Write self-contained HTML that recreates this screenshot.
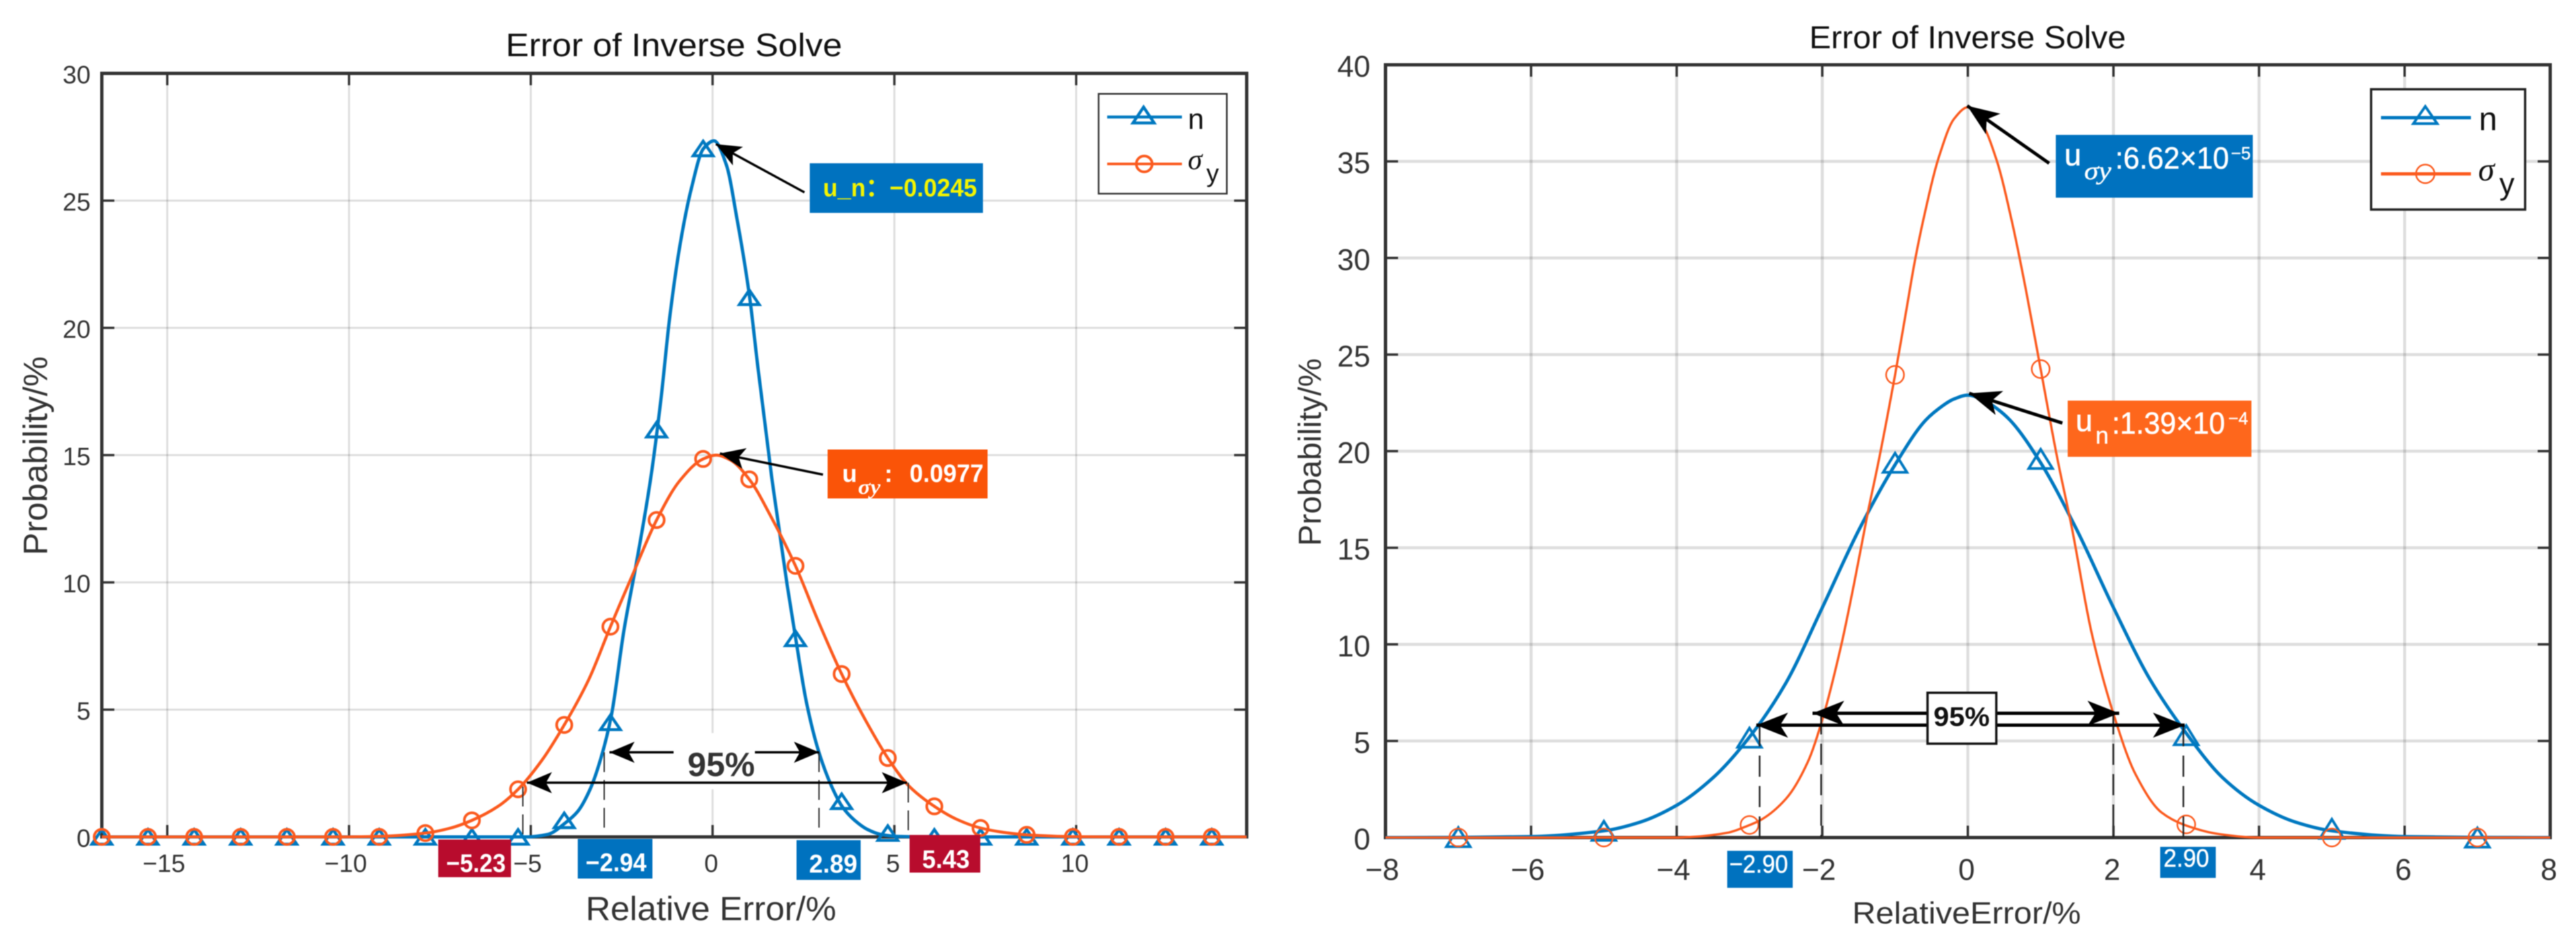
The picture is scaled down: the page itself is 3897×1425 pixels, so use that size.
<!DOCTYPE html>
<html lang="en">
<head>
<meta charset="utf-8">
<title>Error of Inverse Solve</title>
<style>
html,body{margin:0;padding:0;background:#fff;}
svg{display:block;filter:blur(0.7px);}
text{font-family:"Liberation Sans","Noto Sans CJK SC",sans-serif;}
.serif{font-family:"Liberation Serif",serif;}
</style>
</head>
<body>
<svg id="figure" xmlns="http://www.w3.org/2000/svg" width="3897" height="1425" viewBox="0 0 3897 1425">
<defs>
<marker id="headS" markerUnits="userSpaceOnUse" markerWidth="40" markerHeight="34" refX="38" refY="16" orient="auto-start-reverse" overflow="visible"><path d="M38,16 L0,0 L9,16 L0,32 Z" fill="#000"/></marker>
<marker id="headL" markerUnits="userSpaceOnUse" markerWidth="50" markerHeight="40" refX="48" refY="19" orient="auto-start-reverse" overflow="visible"><path d="M48,19 L0,0 L12,19 L0,38 Z" fill="#000"/></marker>
</defs>
<rect x="0" y="0" width="3897" height="1425" fill="#fff"/>

<!-- LEFT PANEL -->
<g id="left-panel">
<g id="left-axes"></g>
<g id="left-series"></g>
<text x="765" y="85" font-size="49" fill="#111" textLength="509" lengthAdjust="spacingAndGlyphs">Error of Inverse Solve</text>
<text x="886" y="1392" font-size="51" fill="#333" textLength="379" lengthAdjust="spacingAndGlyphs">Relative Error/%</text>
<text transform="translate(71,840) rotate(-90)" font-size="51" fill="#333" textLength="301" lengthAdjust="spacingAndGlyphs">Probability/%</text>

<g>
<rect x="1662" y="142" width="194" height="151" fill="#fff" stroke="#333" stroke-width="2.5"/>
<line x1="1675" y1="177" x2="1788" y2="177" stroke="#0078c0" stroke-width="4.5"/>
<path d="M1730,162 L1746,186 L1714,186 Z" fill="none" stroke="#0078c0" stroke-width="4.5"/>
<text x="1797" y="195" font-size="44" fill="#111">n</text>
<line x1="1675" y1="248" x2="1788" y2="248" stroke="#fb5a1e" stroke-width="4"/>
<circle cx="1731" cy="248" r="12" fill="none" stroke="#fb5a1e" stroke-width="4"/>
<text class="serif" x="1797" y="256" font-size="44" font-style="italic" fill="#111">σ</text>
<text x="1825" y="275" font-size="38" fill="#111">y</text>
</g>

<line x1="1217" y1="291" x2="1083" y2="218" stroke="#000" stroke-width="3.5" marker-end="url(#headS)"/>
<rect x="1225" y="247" width="262" height="75" fill="#0072bf"/>
<text x="1245" y="297" font-size="38" font-weight="bold" fill="#f4f400" textLength="233" lengthAdjust="spacingAndGlyphs">u_n：−0.0245</text>

<line x1="1245" y1="718" x2="1089" y2="686" stroke="#000" stroke-width="3.5" marker-end="url(#headS)"/>
<rect x="1252" y="680" width="242" height="74" fill="#fa5408"/>
<text x="1274" y="729" font-size="37" font-weight="bold" fill="#fff">u</text>
<text class="serif" x="1298" y="747" font-size="32" font-weight="bold" font-style="italic" fill="#fff" textLength="34" lengthAdjust="spacingAndGlyphs">σy</text>
<text x="1338" y="729" font-size="37" font-weight="bold" fill="#fff">:</text>
<text x="1376" y="729" font-size="38" font-weight="bold" fill="#fff" textLength="112" lengthAdjust="spacingAndGlyphs">0.0977</text>

<line x1="791" y1="1190" x2="791" y2="1266" stroke="#333" stroke-width="2" stroke-dasharray="30 12"/>
<line x1="914" y1="1138" x2="914" y2="1266" stroke="#333" stroke-width="2" stroke-dasharray="30 12"/>
<line x1="1239" y1="1138" x2="1239" y2="1266" stroke="#333" stroke-width="2" stroke-dasharray="30 12"/>
<line x1="1374" y1="1184" x2="1374" y2="1266" stroke="#333" stroke-width="2" stroke-dasharray="30 12"/>

<line x1="922" y1="1138" x2="1239" y2="1138" stroke="#000" stroke-width="3.5" marker-start="url(#headS)" marker-end="url(#headS)"/>
<rect x="1019" y="1109" width="123" height="85" fill="#fff"/>
<line x1="797" y1="1184" x2="1372" y2="1184" stroke="#000" stroke-width="3.5" marker-start="url(#headS)" marker-end="url(#headS)"/>
<text x="1040" y="1174" font-size="51" font-weight="bold" fill="#333" textLength="102" lengthAdjust="spacingAndGlyphs">95%</text>

<rect x="663" y="1270" width="110" height="57" fill="#b80c2d"/>
<text x="675" y="1319" font-size="39" font-weight="bold" fill="#fff" textLength="90" lengthAdjust="spacingAndGlyphs">−5.23</text>
<rect x="874" y="1269" width="113" height="60" fill="#0072bf"/>
<text x="886" y="1318" font-size="39" font-weight="bold" fill="#fff" textLength="92" lengthAdjust="spacingAndGlyphs">−2.94</text>
<rect x="1205" y="1271" width="97" height="60" fill="#0072bf"/>
<text x="1224" y="1320" font-size="39" font-weight="bold" fill="#fff" textLength="73" lengthAdjust="spacingAndGlyphs">2.89</text>
<rect x="1376" y="1263" width="107" height="57" fill="#b80c2d"/>
<text x="1395" y="1313" font-size="39" font-weight="bold" fill="#fff" textLength="72" lengthAdjust="spacingAndGlyphs">5.43</text>
</g>

<!-- RIGHT PANEL -->
<g id="right-panel">
<g id="right-axes"></g>
<g id="right-series"></g>
<text x="2737" y="73" font-size="48" fill="#111" textLength="479" lengthAdjust="spacingAndGlyphs">Error of Inverse Solve</text>
<text x="2802" y="1397" font-size="46" fill="#333" textLength="346" lengthAdjust="spacingAndGlyphs">RelativeError/%</text>
<text transform="translate(1998,826) rotate(-90)" font-size="48" fill="#333" textLength="284" lengthAdjust="spacingAndGlyphs">Probability/%</text>

<g>
<rect x="3587" y="135" width="233" height="182" fill="#fff" stroke="#222" stroke-width="3.5"/>
<line x1="3602" y1="178" x2="3738" y2="178" stroke="#0078c0" stroke-width="5"/>
<path d="M3669,161 L3687,187 L3651,187 Z" fill="none" stroke="#0078c0" stroke-width="4"/>
<text x="3750" y="197" font-size="50" fill="#111">n</text>
<line x1="3602" y1="263" x2="3738" y2="263" stroke="#fb5a1e" stroke-width="5"/>
<circle cx="3669" cy="263" r="14" fill="none" stroke="#fb5a1e" stroke-width="2.5"/>
<text class="serif" x="3749" y="273" font-size="50" font-style="italic" fill="#111">σ</text>
<text x="3781" y="294" font-size="46" fill="#111">y</text>
</g>

<line x1="3100" y1="247" x2="2976" y2="160" stroke="#000" stroke-width="5" marker-end="url(#headL)"/>
<rect x="3110" y="204" width="298" height="95" fill="#0072bf"/>
<text x="3123" y="250" font-size="46" fill="#fff" stroke="#fff" stroke-width="0.6">u</text>
<text class="serif" x="3153" y="271" font-size="38" font-style="italic" fill="#fff" stroke="#fff" stroke-width="0.4" textLength="41" lengthAdjust="spacingAndGlyphs">σy</text>
<text x="3200" y="255" font-size="46" fill="#fff" stroke="#fff" stroke-width="0.6" textLength="172" lengthAdjust="spacingAndGlyphs">:6.62×10</text>
<text x="3375" y="241" font-size="27" fill="#fff" stroke="#fff" stroke-width="0.4" textLength="30" lengthAdjust="spacingAndGlyphs">−5</text>

<line x1="3120" y1="640" x2="2979" y2="595" stroke="#000" stroke-width="5" marker-end="url(#headL)"/>
<rect x="3128" y="606" width="278" height="85" fill="#fe671c"/>
<text x="3140" y="652" font-size="46" fill="#fff" stroke="#fff" stroke-width="0.6">u</text>
<text x="3170" y="671" font-size="36" fill="#fff" stroke="#fff" stroke-width="0.4">n</text>
<text x="3195" y="656" font-size="46" fill="#fff" stroke="#fff" stroke-width="0.6" textLength="171" lengthAdjust="spacingAndGlyphs">:1.39×10</text>
<text x="3371" y="642" font-size="27" fill="#fff" stroke="#fff" stroke-width="0.4" textLength="30" lengthAdjust="spacingAndGlyphs">−4</text>

<line x1="2662" y1="1097" x2="2662" y2="1267" stroke="#222" stroke-width="2.5" stroke-dasharray="32 14"/>
<line x1="2755" y1="1079" x2="2755" y2="1267" stroke="#222" stroke-width="2.5" stroke-dasharray="32 14"/>
<line x1="3197" y1="1079" x2="3197" y2="1267" stroke="#222" stroke-width="2.5" stroke-dasharray="32 14"/>
<line x1="3303" y1="1097" x2="3303" y2="1267" stroke="#222" stroke-width="2.5" stroke-dasharray="32 14"/>

<line x1="2742" y1="1079" x2="3206" y2="1079" stroke="#000" stroke-width="5" marker-start="url(#headL)" marker-end="url(#headL)"/>
<line x1="2657" y1="1097" x2="3305" y2="1097" stroke="#000" stroke-width="5" marker-start="url(#headL)" marker-end="url(#headL)"/>
<rect x="2916" y="1048" width="104" height="77" fill="#fff" stroke="#111" stroke-width="3.5"/>
<text x="2925" y="1098" font-size="41" font-weight="bold" fill="#111" textLength="85" lengthAdjust="spacingAndGlyphs">95%</text>

<rect x="2613" y="1287" width="99" height="56" fill="#0072bf"/>
<text x="2616" y="1320" font-size="38" fill="#fff" stroke="#fff" stroke-width="0.5" textLength="89" lengthAdjust="spacingAndGlyphs">−2.90</text>
<rect x="3268" y="1281" width="84" height="47" fill="#0072bf"/>
<text x="3273" y="1311" font-size="38" fill="#fff" stroke="#fff" stroke-width="0.5" textLength="69" lengthAdjust="spacingAndGlyphs">2.90</text>
</g>
</svg>

<script>
// ---- left chart data ----
const leftXTicks = [-15, -10, -5, 0, 5, 10];
const leftYTicks = [0, 5, 10, 15, 20, 25, 30];
const leftNX = [-16.8, -10, -5.6, -5.11, -4.53, -4.05, -3.71, -3.36, -3.07, -2.78, -2.44, -2.09, -1.69, -1.42, -1.18, -0.89, -0.58, -0.25, 0.04, 0.38, 0.67, 1.02, 1.25, 1.62, 1.84, 2.05, 2.29, 2.58, 2.93, 3.27, 3.56, 3.91, 4.25, 4.62, 5.07, 6, 14.69];
const leftNY = [0, 0, 0, 0, 0.1, 0.55, 1.0, 1.9, 3.1, 4.8, 8.1, 10.8, 14.2, 17.2, 20.4, 23.3, 25.5, 27.05, 27.35, 26.4, 24.3, 21.2, 18.4, 14.2, 12.0, 9.9, 7.75, 5.3, 3.3, 2.0, 1.2, 0.65, 0.3, 0.1, 0.02, 0, 0];
const leftSigmaX = [-16.8, -10.4, -9.2, -7.9, -7.2, -6.62, -5.9, -5.35, -4.7, -4.08, -3.4, -2.81, -2.2, -1.54, -0.9, -0.26, 0.1, 0.5, 1.01, 1.6, 2.28, 2.9, 3.55, 4.2, 4.82, 5.4, 6.1, 6.7, 7.37, 8.0, 8.64, 9.9, 11, 14.69];
const leftSigmaY = [0, 0, 0.02, 0.15, 0.35, 0.65, 1.2, 1.87, 3.0, 4.4, 6.2, 8.26, 10.3, 12.45, 14.0, 14.85, 15.0, 14.8, 14.05, 12.6, 10.65, 8.5, 6.4, 4.6, 3.1, 2.0, 1.2, 0.7, 0.35, 0.18, 0.08, 0.01, 0, 0];
const leftMarkerX = [-16.8, -15.53, -14.26, -12.98, -11.71, -10.44, -9.17, -7.9, -6.62, -5.35, -4.08, -2.81, -1.54, -0.26, 1.01, 2.28, 3.55, 4.82, 6.1, 7.37, 8.64, 9.91, 11.18, 12.46, 13.73];
const leftNMarkerY = [0, 0, 0, 0, 0, 0, 0, 0, 0, 0, 0.65, 4.5, 16.0, 27.05, 21.2, 7.8, 1.4, 0.15, 0, 0, 0, 0, 0, 0, 0];
const leftSigmaMarkerY = [0, 0, 0, 0, 0, 0, 0, 0.15, 0.65, 1.87, 4.4, 8.26, 12.45, 14.85, 14.05, 10.65, 6.4, 3.1, 1.2, 0.35, 0.08, 0, 0, 0, 0];

// ---- right chart data ----
const rightXTicks = [-8, -6, -4, -2, 0, 2, 4, 6, 8];
const rightYTicks = [0, 5, 10, 15, 20, 25, 30, 35, 40];
const rightNX = [-8, -7, -6, -5, -4.5, -4, -3.5, -3, -2.5, -2, -1.5, -1, -0.58, -0.4, -0.19, 0, 0.19, 0.4, 0.58, 1, 1.5, 2, 2.5, 3, 3.5, 4, 4.5, 5, 6, 7, 8];
const rightNY = [0, 0.01, 0.05, 0.35, 0.8, 1.67, 3.1, 5.2, 8.0, 11.9, 15.9, 19.3, 21.6, 22.2, 22.7, 22.9, 22.7, 22.2, 21.6, 19.4, 15.9, 11.9, 8.2, 5.4, 3.1, 1.67, 0.8, 0.35, 0.05, 0.01, 0];
const rightSigmaX = [-8, -4, -3.8, -3.3, -3.03, -2.85, -2.5, -2.2, -2, -1.74, -1.56, -1.37, -1.23, -1, -0.85, -0.73, -0.61, -0.4, -0.19, 0, 0.19, 0.4, 0.61, 0.8, 1, 1.23, 1.42, 1.7, 2, 2.3, 2.66, 3, 3.45, 4, 8];
const rightSigmaY = [0, 0, 0.03, 0.25, 0.6, 0.9, 2.0, 3.9, 6.1, 9.95, 13.2, 16.9, 19.4, 23.95, 27.2, 29.8, 32, 35.2, 37.2, 37.8, 37.0, 35.0, 31.8, 28.3, 24.25, 19.6, 16.2, 10.6, 6.4, 3.3, 1.3, 0.62, 0.18, 0, 0];
const rightMarkerX = [-7, -5, -3, -1, 1, 3, 5, 7];
const rightNMarkerY = [0.02, 0.35, 5.17, 19.4, 19.6, 5.3, 0.45, 0];
const rightSigmaMarkerY = [0, 0, 0.65, 23.95, 24.25, 0.68, 0, 0];

const SVG_NS = 'http://www.w3.org/2000/svg';
function add(tag, attrs, parent) {
  const el = document.createElementNS(SVG_NS, tag);
  for (const k in attrs) el.setAttribute(k, attrs[k]);
  parent.appendChild(el);
  return el;
}
// Smooth path through the data points (monotone cubic Hermite), so nothing overshoots below the axis.
function linePath(xs, ys, sx, sy) {
  const n = xs.length;
  const px = xs.map(sx), py = ys.map(sy);
  const slope = [];
  for (let i = 0; i < n - 1; i++) slope.push((py[i + 1] - py[i]) / (px[i + 1] - px[i]));
  const m = [slope[0]];
  for (let i = 1; i < n - 1; i++) {
    if (slope[i - 1] * slope[i] <= 0) { m.push(0); continue; }
    const h0 = px[i] - px[i - 1], h1 = px[i + 1] - px[i];
    const w0 = 2 * h1 + h0, w1 = h1 + 2 * h0;
    m.push((w0 + w1) / (w0 / slope[i - 1] + w1 / slope[i]));
  }
  m.push(slope[n - 2]);
  let d = 'M' + px[0].toFixed(1) + ',' + py[0].toFixed(1);
  for (let i = 0; i < n - 1; i++) {
    const h = (px[i + 1] - px[i]) / 3;
    d += ' C' + (px[i] + h).toFixed(1) + ',' + (py[i] + m[i] * h).toFixed(1) + ' ' +
      (px[i + 1] - h).toFixed(1) + ',' + (py[i + 1] - m[i + 1] * h).toFixed(1) + ' ' +
      px[i + 1].toFixed(1) + ',' + py[i + 1].toFixed(1);
  }
  return d;
}
function tickText(v) {
  return v < 0 ? '\u2212' + Math.abs(v) : String(v);
}

function drawAxes(g, o) {
  o.xTicks.forEach(function (v) {
    const grid = add('line', {x1: o.sx(v), x2: o.sx(v), y1: o.top, y2: o.bottom, stroke: '#000', 'stroke-opacity': 0.13, 'stroke-width': o.gridW}, g);
    
    
  });
  o.yTicks.forEach(function (v) {
    const grid = add('line', {x1: o.left, x2: o.right, y1: o.sy(v), y2: o.sy(v), stroke: '#000', 'stroke-opacity': 0.13, 'stroke-width': o.gridW}, g);
    
    
  });
  const box = add('rect', {x: o.left, y: o.top, width: o.right - o.left, height: o.bottom - o.top, fill: 'none', stroke: '#333', 'stroke-width': o.axisW}, g);
  
  
  o.xTicks.forEach(function (v) {
    const x = o.sx(v);
    const d = 'M' + x + ',' + o.bottom + ' V' + (o.bottom - 18) + ' M' + x + ',' + o.top + ' V' + (o.top + 18);
    const tick = add('path', {d: d, stroke: '#333', 'stroke-width': 3.5, fill: 'none'}, g);
    
    
    const label = add('text', {x: x + (v < 0 ? -5 : -2), y: o.xLabelY, 'font-size': o.fontSize, fill: '#333', 'text-anchor': 'middle'}, g);
    label.textContent = tickText(v);
    
    
  });
  o.yTicks.forEach(function (v) {
    const y = o.sy(v);
    const d = 'M' + o.left + ',' + y + ' H' + (o.left + 19) + ' M' + o.right + ',' + y + ' H' + (o.right - 19);
    const tick = add('path', {d: d, stroke: '#333', 'stroke-width': 3.5, fill: 'none'}, g);
    
    
    const label = add('text', {x: o.yLabelX, y: y + o.yLabelDy, 'font-size': o.fontSize, fill: '#333', 'text-anchor': 'end'}, g);
    label.textContent = tickText(v);
    
    
  });
}

function drawSeries(g, o) {
  const nLine = add('path', {d: linePath(o.nX, o.nY, o.sx, o.sy), fill: 'none', stroke: '#0078c0', 'stroke-width': o.nW, 'stroke-linejoin': 'round'}, g);
  
  
  o.markerX.forEach(function (x, i) {
    const cx = o.sx(x), cy = o.sy(o.nMarkerY[i]);
    const d = 'M' + cx + ',' + (cy - o.triH / 2) + ' L' + (cx + o.triW / 2) + ',' + (cy + o.triH / 2) + ' L' + (cx - o.triW / 2) + ',' + (cy + o.triH / 2) + ' Z';
    const tri = add('path', {d: d, fill: 'none', stroke: '#0078c0', 'stroke-width': o.triS}, g);
    
    
  });
  const sLine = add('path', {d: linePath(o.sigmaX, o.sigmaY, o.sx, o.sy), fill: 'none', stroke: '#fb5a1e', 'stroke-width': o.sW, 'stroke-linejoin': 'round'}, g);
  
  
  o.markerX.forEach(function (x, i) {
    const c = add('circle', {cx: o.sx(x), cy: o.sy(o.sigmaMarkerY[i]), r: o.circR, fill: 'none', stroke: '#fb5a1e', 'stroke-width': o.circS}, g);
    
    
  });
}

function leftSx(v) { return 1078 + v * 55; }
function leftSy(v) { return 1266 - v * 38.5; }
function rightSx(v) { return 2977 + v * 110.125; }
function rightSy(v) { return 1267 - v * 29.225; }

drawAxes(document.getElementById('left-axes'), {
  xTicks: leftXTicks, yTicks: leftYTicks, sx: leftSx, sy: leftSy,
  left: 154, right: 1886, top: 111, bottom: 1266,
  gridW: 3, axisW: 5, fontSize: 38, xLabelY: 1319, yLabelX: 137, yLabelDy: 15
});
drawSeries(document.getElementById('left-series'), {
  nX: leftNX, nY: leftNY, sigmaX: leftSigmaX, sigmaY: leftSigmaY,
  markerX: leftMarkerX, nMarkerY: leftNMarkerY, sigmaMarkerY: leftSigmaMarkerY,
  sx: leftSx, sy: leftSy, nW: 5, sW: 4.5, triW: 30, triH: 22, triS: 4.5, circR: 11.5, circS: 4
});
drawAxes(document.getElementById('right-axes'), {
  xTicks: rightXTicks, yTicks: rightYTicks, sx: rightSx, sy: rightSy,
  left: 2096, right: 3858, top: 98, bottom: 1267,
  gridW: 4.5, axisW: 5, fontSize: 45, xLabelY: 1331, yLabelX: 2073, yLabelDy: 18
});
drawSeries(document.getElementById('right-series'), {
  nX: rightNX, nY: rightNY, sigmaX: rightSigmaX, sigmaY: rightSigmaY,
  markerX: rightMarkerX, nMarkerY: rightNMarkerY, sigmaMarkerY: rightSigmaMarkerY,
  sx: rightSx, sy: rightSy, nW: 5, sW: 3.5, triW: 36, triH: 29, triS: 4, circR: 13.5, circS: 2.5
});
</script>
</body>
</html>
